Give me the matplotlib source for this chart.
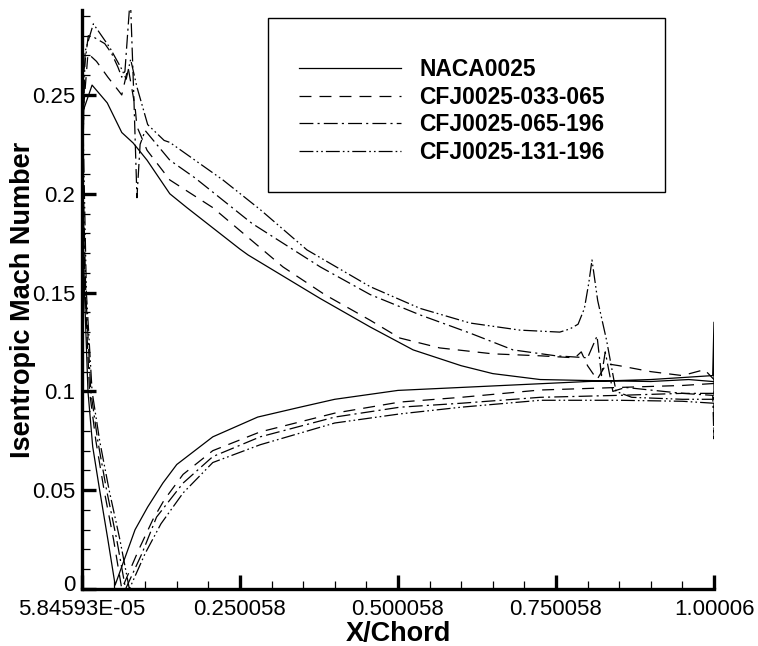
import matplotlib
matplotlib.use("Agg")
import matplotlib.pyplot as plt
from matplotlib.patches import Rectangle
from matplotlib.transforms import ScaledTranslation

plt.rcParams['font.family'] = ['Liberation Sans', 'DejaVu Sans']
plt.rcParams['lines.scale_dashes'] = False

# surface Mach number, each curve: lower surface TE -> LE, then upper surface LE -> TE
naca_x = [1.0, 1.0, 0.998, 0.95, 0.9, 0.8, 0.7, 0.6, 0.5, 0.4, 0.345, 0.278, 0.207, 0.15, 0.128,
          0.104, 0.084, 0.0525, 0.041, 0.028, 0.017, 0.0095, 0.004, 0.0008, 0.002, 0.016, 0.04,
          0.063, 0.081, 0.103, 0.139, 0.166, 0.25, 0.263, 0.377, 0.456, 0.524, 0.6, 0.65, 0.725,
          0.8, 0.9, 0.96, 0.998]
naca_y = [0.098, 0.135, 0.108, 0.107, 0.106, 0.105, 0.1035, 0.102, 0.1005, 0.096, 0.092, 0.087,
          0.077, 0.063, 0.0536, 0.0415, 0.030, 0.002, 0.025, 0.05, 0.072, 0.10, 0.15, 0.20, 0.242,
          0.255, 0.246, 0.231, 0.2257, 0.217, 0.200, 0.193, 0.172, 0.169, 0.147, 0.1326, 0.121,
          0.113, 0.109, 0.106, 0.1055, 0.105, 0.106, 0.105]

cfj033_x = [1.0, 0.95, 0.85, 0.725, 0.6, 0.503, 0.4, 0.282, 0.207, 0.16, 0.13, 0.112, 0.09, 0.063,
            0.05, 0.035, 0.022, 0.012, 0.005, 0.001,
            0.003, 0.0095, 0.023, 0.041, 0.057, 0.063, 0.073, 0.084, 0.087, 0.103, 0.139, 0.207,
            0.318, 0.384, 0.456, 0.503, 0.566, 0.65, 0.725, 0.78, 0.79, 0.80, 0.815, 0.83, 0.85,
            0.9, 0.95, 0.985, 1.0]
cfj033_y = [0.104, 0.103, 0.102, 0.1007, 0.097, 0.0946, 0.089, 0.0795, 0.070, 0.058, 0.045, 0.035,
            0.02, 0.0, 0.025, 0.05, 0.075, 0.10, 0.15, 0.21,
            0.245, 0.271, 0.267, 0.259, 0.2525, 0.250, 0.264, 0.244, 0.234, 0.222, 0.207, 0.193,
            0.163, 0.149, 0.136, 0.127, 0.122, 0.119, 0.118, 0.117, 0.12, 0.113, 0.106, 0.114,
            0.113, 0.110, 0.108, 0.111, 0.106]

cfj065_x = [1.0, 0.95, 0.85, 0.725, 0.6, 0.503, 0.4, 0.282, 0.207, 0.16, 0.118, 0.095, 0.069,
            0.055, 0.039, 0.025, 0.014, 0.006, 0.001,
            0.003, 0.01, 0.02, 0.036, 0.047, 0.057, 0.063, 0.068, 0.0765, 0.082, 0.087, 0.092,
            0.1, 0.139, 0.179, 0.269, 0.377, 0.456, 0.535, 0.614, 0.682, 0.75, 0.80, 0.815, 0.822,
            0.828, 0.84, 0.86, 0.95, 0.998, 1.0, 1.0]
cfj065_y = [0.099, 0.099, 0.098, 0.097, 0.094, 0.092, 0.087, 0.077, 0.067, 0.0536, 0.0364, 0.018,
            0.0, 0.025, 0.05, 0.075, 0.10, 0.15, 0.22,
            0.262, 0.28, 0.279, 0.276, 0.271, 0.264, 0.259, 0.262, 0.30, 0.25, 0.198, 0.225,
            0.232, 0.217, 0.208, 0.185, 0.163, 0.149, 0.1387, 0.1295, 0.121, 0.118, 0.117, 0.128,
            0.108, 0.12, 0.1, 0.102, 0.099, 0.098, 0.076, 0.1]

cfj131_x = [1.0, 0.95, 0.85, 0.725, 0.6, 0.503, 0.4, 0.282, 0.207, 0.16, 0.125, 0.10, 0.075,
            0.06, 0.043, 0.028, 0.016, 0.007, 0.002,
            0.005, 0.018, 0.044, 0.063, 0.07, 0.077, 0.087, 0.104, 0.13, 0.139, 0.223, 0.282,
            0.356, 0.456, 0.535, 0.614, 0.693, 0.756, 0.772, 0.785, 0.795, 0.802, 0.807, 0.816,
            0.83, 0.845, 0.87, 0.95, 1.0]
cfj131_y = [0.094, 0.095, 0.0955, 0.0955, 0.092, 0.0886, 0.084, 0.073, 0.064, 0.0486, 0.033, 0.018,
            0.0, 0.025, 0.05, 0.075, 0.10, 0.15, 0.23,
            0.272, 0.286, 0.274, 0.263, 0.258, 0.268, 0.254, 0.235, 0.227, 0.226, 0.207, 0.192,
            0.1716, 0.153, 0.142, 0.1346, 0.131, 0.130, 0.1316, 0.134, 0.142, 0.155, 0.1665, 0.146,
            0.126, 0.100, 0.097, 0.096, 0.096]

labels = ["NACA0025", "CFJ0025-033-065", "CFJ0025-065-196", "CFJ0025-131-196"]

x0 = 5.84593E-05
xtick_vals = [x0, x0 + 0.25, x0 + 0.5, x0 + 0.75, 1.00006]
xtick_labels = ["5.84593E-05", "0.250058", "0.500058", "0.750058", "1.00006"]
ytick_vals = [0, 0.05, 0.1, 0.15, 0.2, 0.25]
ytick_labels = ["0", "0.05", "0.1", "0.15", "0.2", "0.25"]

W, H = 758, 646
fig = plt.figure(figsize=(W / 100, H / 100), dpi=100)
ax = fig.add_axes([82 / W, 1 - 589 / H, (714 - 82) / W, (589 - 10) / H])

styles = ['-', (0, (8.6, 5.8)), (0, (10, 3, 1.5, 3)), (0, (10, 2.2, 1.2, 2.2, 1.2, 2.2))]
series = [(naca_x, naca_y), (cfj033_x, cfj033_y), (cfj065_x, cfj065_y), (cfj131_x, cfj131_y)]
for (xs, ys), ls, lab in zip(series, styles, labels):
    ax.plot(xs, ys, color='black', linestyle=ls, linewidth=0.9, label=lab)

ax.set_xlim(x0, 1.00006)
ax.set_ylim(0, 0.293)

for s in ['top', 'right']:
    ax.spines[s].set_visible(False)
for s in ['left', 'bottom']:
    ax.spines[s].set_linewidth(2.4)

ax.set_xticks(xtick_vals)
ax.set_xticklabels(xtick_labels)
ax.set_xticks([x0 + 0.05 * i for i in range(20) if i % 5 != 0], minor=True)
ax.set_yticks(ytick_vals)
ax.set_yticklabels(ytick_labels)
ax.set_yticks([0.01 * i for i in range(30) if i % 5 != 0], minor=True)
ax.tick_params(which='major', direction='in', length=10, width=2.4, labelsize=16, pad=5)
ax.tick_params(axis='x', which='major', pad=7)
ax.tick_params(which='minor', direction='in', length=6, width=0.9)

# nudge the "0" label up a little so it clears the first x label
zero_lab = ax.get_yticklabels()[0]
zero_lab.set_transform(zero_lab.get_transform() + ScaledTranslation(0, 6 / 100, fig.dpi_scale_trans))

ax.set_xlabel("X/Chord", fontsize=19.5, fontweight='bold', labelpad=1)
ax.set_ylabel("Isentropic Mach Number", fontsize=19.5, fontweight='bold', labelpad=-3)

# legend box
fig.add_artist(Rectangle((268 / W, 1 - 192 / H), 397 / W, 174 / H, transform=fig.transFigure,
                         fill=False, edgecolor='black', linewidth=1.0))
leg = ax.legend(loc='upper left', bbox_to_anchor=(299 / W, 1 - 58 / H), bbox_transform=fig.transFigure,
                frameon=False, borderpad=0, borderaxespad=0, handlelength=4.46, handletextpad=0.8,
                labelspacing=0.2, prop={'size': 16.5, 'weight': 'bold'})

fig.savefig("out.png", dpi=100)
